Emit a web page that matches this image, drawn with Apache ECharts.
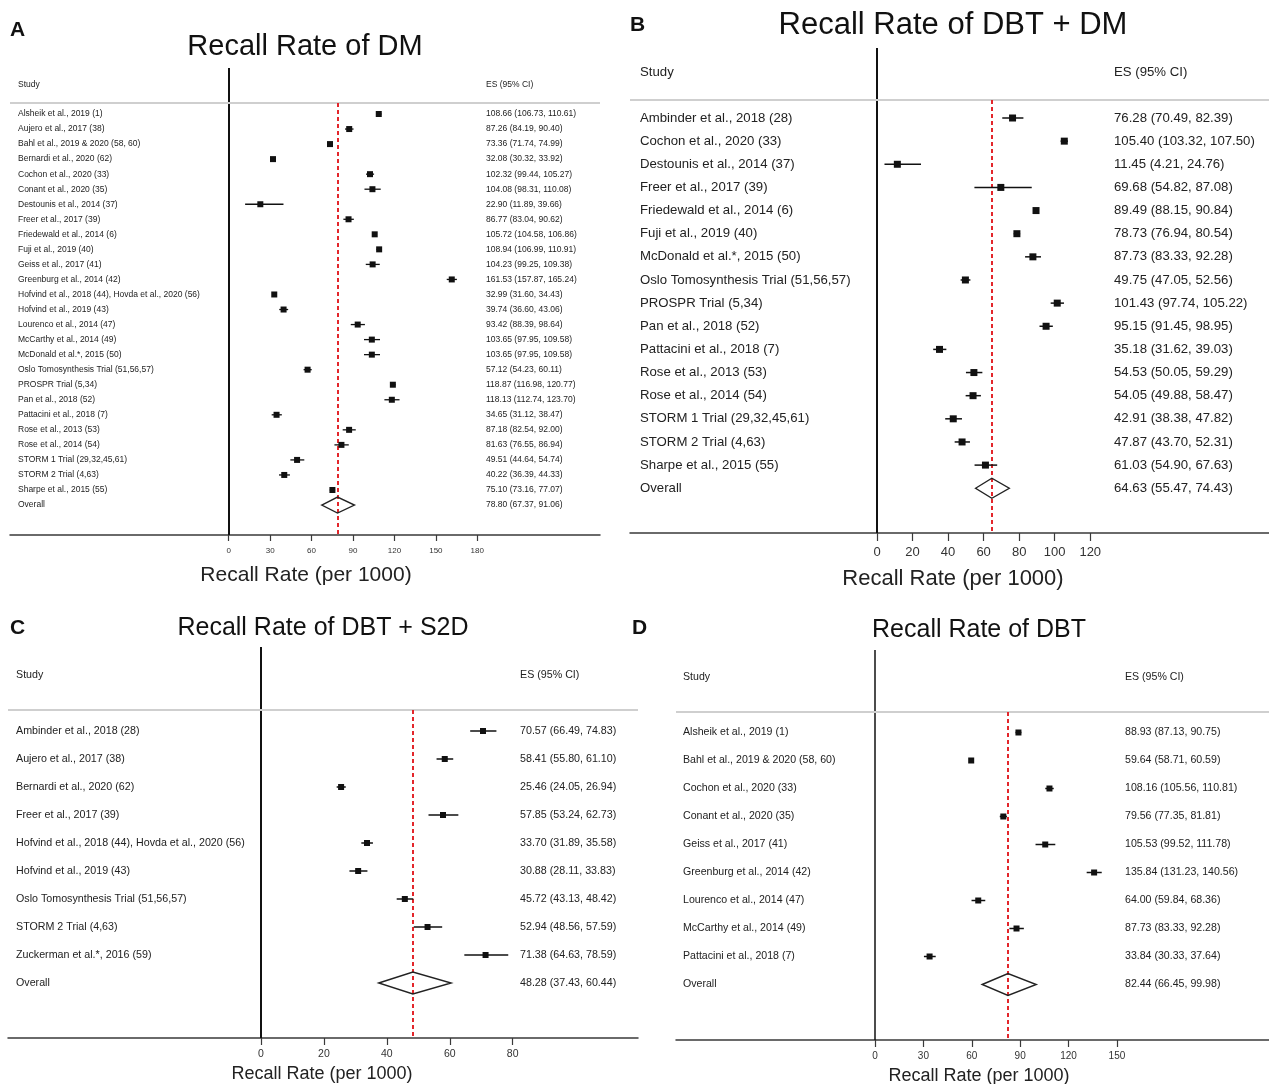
<!DOCTYPE html>
<html>
<head>
<meta charset="utf-8">
<script src="https://cdn.jsdelivr.net/npm/echarts@6/dist/echarts.min.js"></script>
<style>
html,body{margin:0;padding:0;background:#fff;}
#chart{width:1269px;height:1084px;}
</style>
</head>
<body>
<div id="chart"></div>
<script>
// ---------- Panel A: Recall Rate of DM ----------
const studiesA = ["Alsheik et al., 2019 (1)","Aujero et al., 2017 (38)","Bahl et al., 2019 & 2020 (58, 60)","Bernardi et al., 2020 (62)","Cochon et al., 2020 (33)","Conant et al., 2020 (35)","Destounis et al., 2014 (37)","Freer et al., 2017 (39)","Friedewald et al., 2014 (6)","Fuji et al., 2019 (40)","Geiss et al., 2017 (41)","Greenburg et al., 2014 (42)","Hofvind et al., 2018 (44), Hovda et al., 2020 (56)","Hofvind et al., 2019 (43)","Lourenco et al., 2014 (47)","McCarthy et al., 2014 (49)","McDonald et al.*, 2015 (50)","Oslo Tomosynthesis Trial (51,56,57)","PROSPR Trial (5,34)","Pan et al., 2018 (52)","Pattacini et al., 2018 (7)","Rose et al., 2013 (53)","Rose et al., 2014 (54)","STORM 1 Trial (29,32,45,61)","STORM 2 Trial (4,63)","Sharpe et al., 2015 (55)","Overall"];
const esA = [108.66,87.26,73.36,32.08,102.32,104.08,22.90,86.77,105.72,108.94,104.23,161.53,32.99,39.74,93.42,103.65,103.65,57.12,118.87,118.13,34.65,87.18,81.63,49.51,40.22,75.10,78.80];
const loA = [106.73,84.19,71.74,30.32,99.44,98.31,11.89,83.04,104.58,106.99,99.25,157.87,31.60,36.60,88.39,97.95,97.95,54.23,116.98,112.74,31.12,82.54,76.55,44.64,36.39,73.16,67.37];
const hiA = [110.61,90.40,74.99,33.92,105.27,110.08,39.66,90.62,106.86,110.91,109.38,165.24,34.43,43.06,98.64,109.58,109.58,60.11,120.77,123.70,38.47,92.00,86.94,54.74,44.33,77.07,91.06];
const ticksA = [0,30,60,90,120,150,180];

// ---------- Panel B: Recall Rate of DBT + DM ----------
const studiesB = ["Ambinder et al., 2018 (28)","Cochon et al., 2020 (33)","Destounis et al., 2014 (37)","Freer et al., 2017 (39)","Friedewald et al., 2014 (6)","Fuji et al., 2019 (40)","McDonald et al.*, 2015 (50)","Oslo Tomosynthesis Trial (51,56,57)","PROSPR Trial (5,34)","Pan et al., 2018 (52)","Pattacini et al., 2018 (7)","Rose et al., 2013 (53)","Rose et al., 2014 (54)","STORM 1 Trial (29,32,45,61)","STORM 2 Trial (4,63)","Sharpe et al., 2015 (55)","Overall"];
const esB = [76.28,105.40,11.45,69.68,89.49,78.73,87.73,49.75,101.43,95.15,35.18,54.53,54.05,42.91,47.87,61.03,64.63];
const loB = [70.49,103.32,4.21,54.82,88.15,76.94,83.33,47.05,97.74,91.45,31.62,50.05,49.88,38.38,43.70,54.90,55.47];
const hiB = [82.39,107.50,24.76,87.08,90.84,80.54,92.28,52.56,105.22,98.95,39.03,59.29,58.47,47.82,52.31,67.63,74.43];
const ticksB = [0,20,40,60,80,100,120];

// ---------- Panel C: Recall Rate of DBT + S2D ----------
const studiesC = ["Ambinder et al., 2018 (28)","Aujero et al., 2017 (38)","Bernardi et al., 2020 (62)","Freer et al., 2017 (39)","Hofvind et al., 2018 (44), Hovda et al., 2020 (56)","Hofvind et al., 2019 (43)","Oslo Tomosynthesis Trial (51,56,57)","STORM 2 Trial (4,63)","Zuckerman et al.*, 2016 (59)","Overall"];
const esC = [70.57,58.41,25.46,57.85,33.70,30.88,45.72,52.94,71.38,48.28];
const loC = [66.49,55.80,24.05,53.24,31.89,28.11,43.13,48.56,64.63,37.43];
const hiC = [74.83,61.10,26.94,62.73,35.58,33.83,48.42,57.59,78.59,60.44];
const ticksC = [0,20,40,60,80];

// ---------- Panel D: Recall Rate of DBT ----------
const studiesD = ["Alsheik et al., 2019 (1)","Bahl et al., 2019 & 2020 (58, 60)","Cochon et al., 2020 (33)","Conant et al., 2020 (35)","Geiss et al., 2017 (41)","Greenburg et al., 2014 (42)","Lourenco et al., 2014 (47)","McCarthy et al., 2014 (49)","Pattacini et al., 2018 (7)","Overall"];
const esD = [88.93,59.64,108.16,79.56,105.53,135.84,64.00,87.73,33.84,82.44];
const loD = [87.13,58.71,105.56,77.35,99.52,131.23,59.84,83.33,30.33,66.45];
const hiD = [90.75,60.59,110.81,81.81,111.78,140.56,68.36,92.28,37.64,99.98];
const ticksD = [0,30,60,90,120,150];

const titles = ["Recall Rate of DM","Recall Rate of DBT + DM","Recall Rate of DBT + S2D","Recall Rate of DBT"];
const letters = ["A","B","C","D"];
const axisTitle = "Recall Rate (per 1000)";
const headStudy = "Study";
const headES = "ES (95% CI)";

// ---------- layout (pixels) ----------
const layouts = [
  {gl:10, gt:68, gr:600, gb:535, zeroX:228.7, ppu:1.381, row0:114, step:15.04, grayY:103, studyX:18, esX:486, headY:85,
   fs:8.5, tickFs:8, tickLen:6, tickMargin:12, sq:6, lw:1.3, diam:8, vlw:2,
   letter:[10,30], title:[305,47], titleFs:29, atitle:[306,575], atitleFs:21},
  {gl:630, gt:48, gr:1269, gb:533, zeroX:877, ppu:1.777, row0:118, step:23.14, grayY:100, studyX:640, esX:1114, headY:72,
   fs:13.2, tickFs:13, tickLen:8, tickMargin:13, sq:7, lw:1.5, diam:10, vlw:2,
   letter:[630,25], title:[953,25], titleFs:31, atitle:[953,579], atitleFs:22},
  {gl:8, gt:647, gr:638, gb:1038, zeroX:261, ppu:3.146, row0:731, step:28, grayY:710, studyX:16, esX:520, headY:675,
   fs:10.7, tickFs:10.5, tickLen:7, tickMargin:11, sq:6, lw:1.5, diam:11, vlw:2,
   letter:[10,628], title:[323,628], titleFs:25, atitle:[322,1074], atitleFs:18},
  {gl:676, gt:650, gr:1269, gb:1040, zeroX:875, ppu:1.613, row0:732.5, step:28, grayY:712, studyX:683, esX:1125, headY:677,
   fs:10.6, tickFs:10, tickLen:7, tickMargin:11, sq:6, lw:1.5, diam:11, vlw:1.5,
   letter:[632,628], title:[979,630], titleFs:25, atitle:[979,1076], atitleFs:18}
];

const panels = [
  {studies:studiesA, es:esA, lo:loA, hi:hiA, ticks:ticksA},
  {studies:studiesB, es:esB, lo:loB, hi:hiB, ticks:ticksB},
  {studies:studiesC, es:esC, lo:loC, hi:hiC, ticks:ticksC},
  {studies:studiesD, es:esD, lo:loD, hi:hiD, ticks:ticksD}
];

const FONT = "'Liberation Sans', Arial, Helvetica, sans-serif";
const grids = [], xAxes = [], yAxes = [], series = [], graphics = [];

panels.forEach((p, k) => {
  const L = layouts[k];
  const W = L.gr - L.gl, H = L.gb - L.gt;
  const xmin = -(L.zeroX - L.gl) / L.ppu;
  const xmax = (L.gr - L.zeroX) / L.ppu;
  const ymin = (L.gt - L.row0) / L.step;
  const ymax = (L.gb - L.row0) / L.step;
  const grayRow = (L.grayY - L.row0) / L.step;
  const n = p.studies.length;
  const rows = p.studies.map((_, i) => i);
  const overall = p.es[n - 1];

  grids.push({left:L.gl, top:L.gt, width:W, height:H, containLabel:false, outerBoundsMode:'none'});

  xAxes.push({
    type:'value', gridIndex:k, min:xmin, max:xmax,
    axisLine:{show:true, onZero:false, lineStyle:{color:'#3a3a3a', width:1.5}},
    axisTick:{show:true, customValues:p.ticks, length:L.tickLen, lineStyle:{color:'#3a3a3a', width:1.2}},
    axisLabel:{show:true, customValues:p.ticks, fontSize:L.tickFs, margin:L.tickMargin, color:'#333', fontFamily:FONT},
    splitLine:{show:false}
  });

  const yBase = {
    type:'value', gridIndex:k, min:ymin, max:ymax, inverse:true,
    axisLine:{show:false, onZero:false}, axisTick:{show:false}, splitLine:{show:false}
  };
  yAxes.push(Object.assign({}, yBase, {
    position:'left',
    axisLabel:{show:true, customValues:rows, align:'left', margin:-(L.studyX - L.gl),
      fontSize:L.fs, color:'#222', fontFamily:FONT,
      formatter:(v) => p.studies[Math.round(v)]}
  }));
  yAxes.push(Object.assign({}, yBase, {
    position:'right',
    axisLabel:{show:true, customValues:rows, align:'left', margin:-(L.gr - L.esX),
      fontSize:L.fs, color:'#222', fontFamily:FONT,
      formatter:(v) => { const i = Math.round(v); return p.es[i].toFixed(2) + ' (' + p.lo[i].toFixed(2) + ', ' + p.hi[i].toFixed(2) + ')'; }}
  }));

  const data = p.es.map((v, i) => [v, p.lo[i], p.hi[i], i, i === n - 1 ? 1 : 0]);

  series.push({
    type:'custom', xAxisIndex:k, yAxisIndex:2 * k,
    encode:{x:[0,1,2], y:3},
    data:data,
    z:5,
    renderItem:function(params, api){
      const es = api.value(0), lo = api.value(1), hi = api.value(2), row = api.value(3), ov = api.value(4);
      const c = api.coord([es, row]), l = api.coord([lo, row]), h = api.coord([hi, row]);
      if (ov) {
        return {type:'polygon', shape:{points:[[l[0],c[1]],[c[0],c[1]-L.diam],[h[0],c[1]],[c[0],c[1]+L.diam]]},
          style:{fill:'none', stroke:'#222', lineWidth:1.4}};
      }
      const s = L.sq;
      return {type:'group', children:[
        {type:'line', shape:{x1:l[0], y1:c[1], x2:h[0], y2:c[1]}, style:{stroke:'#111', lineWidth:L.lw}},
        {type:'rect', shape:{x:c[0]-s/2, y:c[1]-s/2, width:s, height:s}, style:{fill:'#111'}}
      ]};
    },
    markLine:{
      silent:true, symbol:['none','none'], label:{show:false}, animation:false,
      data:[
        {xAxis:0, lineStyle:{color:'#111', width:L.vlw, type:'solid'}},
        {yAxis:grayRow, lineStyle:{color:'#cfcfcf', width:2, type:'solid'}},
        [{coord:[overall, grayRow], lineStyle:{color:'#e3262b', width:2, type:[4,3]}}, {coord:[overall, ymax]}]
      ]
    }
  });

  graphics.push(
    {type:'text', x:L.letter[0], y:L.letter[1], style:{text:letters[k], font:'bold 21px ' + FONT, fill:'#111', textAlign:'left', textVerticalAlign:'middle'}},
    {type:'text', x:L.title[0], y:L.title[1], style:{text:titles[k], font:L.titleFs + 'px ' + FONT, fill:'#111', textAlign:'center', textVerticalAlign:'middle'}},
    {type:'text', x:L.studyX, y:L.headY, style:{text:headStudy, font:L.fs + 'px ' + FONT, fill:'#222', textAlign:'left', textVerticalAlign:'middle'}},
    {type:'text', x:L.esX, y:L.headY, style:{text:headES, font:L.fs + 'px ' + FONT, fill:'#222', textAlign:'left', textVerticalAlign:'middle'}},
    {type:'text', x:L.atitle[0], y:L.atitle[1], style:{text:axisTitle, font:L.atitleFs + 'px ' + FONT, fill:'#222', textAlign:'center', textVerticalAlign:'middle'}}
  );
});

const chart = echarts.init(document.getElementById('chart'), null, {renderer:'canvas'});
chart.setOption({
  animation:false,
  backgroundColor:'#fff',
  textStyle:{fontFamily:FONT},
  grid:grids, xAxis:xAxes, yAxis:yAxes, series:series, graphic:graphics
});
</script>
</body>
</html>
